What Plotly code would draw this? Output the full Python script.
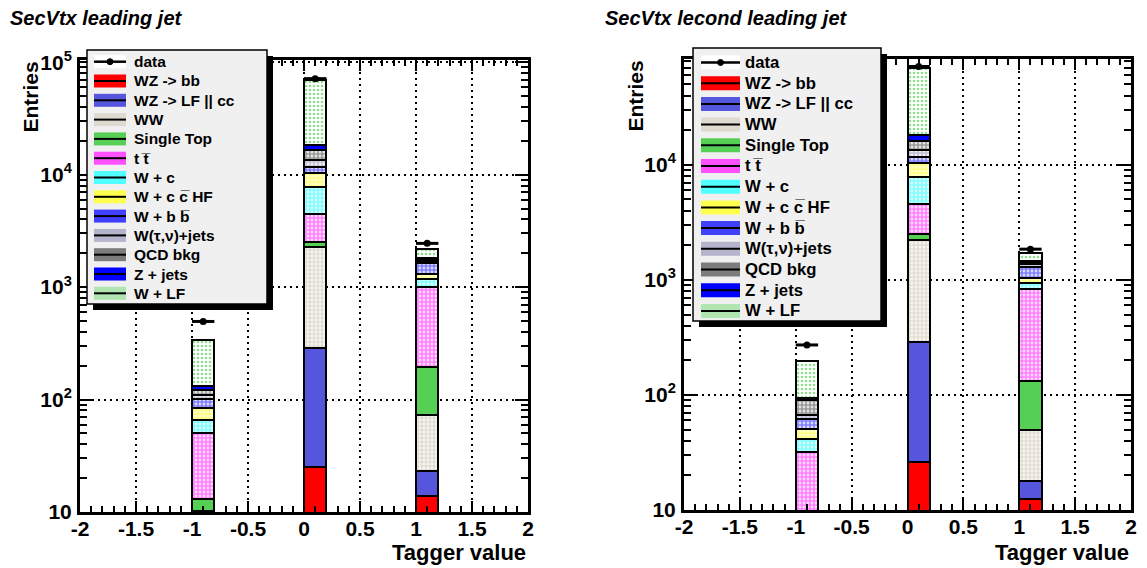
import plotly.graph_objects as go

# ---------------- data ----------------
bins = [-0.9, 0.1, 1.1]          # bin centres (bins of width 0.2 starting at -1, 0, 1)
bin_halfwidth = [0.1, 0.1, 0.1]

components = ["WZ -> bb", "WZ -> LF || cc", "WW", "Single Top", "t t\u0305",
              "W + c", "W + c c\u0305 HF", "W + b b\u0305", "W(\u03c4,\u03bd)+jets",
              "QCD bkg", "Z + jets", "W + LF"]

# leading jet (left panel)
lead_wzbb = [0.5, 25, 14]
lead_wzlf = [1.5, 262, 9.2]
lead_ww = [8.3, 1973, 49.8]
lead_stop = [2.7, 240, 120]
lead_tt = [37, 1980, 817]
lead_wc = [16, 3350, 170]
lead_wcc = [18, 2450, 130]
lead_wbb = [17, 1450, 316]
lead_wtau = [8, 1720, 74]
lead_qcd = [12, 3030, 80]
lead_zjets = [11, 1800, 35]
lead_wlf = [206, 51600, 365]
lead_data = [495, 71500, 2450]

# second leading jet (right panel)
sec_wzbb = [0.3, 26, 12.4]
sec_wzlf = [1.0, 264, 5.6]
sec_ww = [3.7, 1940, 31.6]
sec_stop = [3.0, 280, 83.4]
sec_tt = [23.9, 2070, 697]
sec_wc = [9.8, 3330, 118]
sec_wcc = [9.2, 2570, 87]
sec_wbb = [11, 1180, 255]
sec_wtau = [5.1, 1840, 87]
sec_qcd = [23.5, 2680, 63]
sec_zjets = [3, 2060, 31]
sec_wlf = [105.5, 51160, 255]
sec_data = [272, 71600, 1850]

x_tickvals = [-2, -1.5, -1, -0.5, 0, 0.5, 1, 1.5, 2]
x_ticktext = ["-2", "-1.5", "-1", "-0.5", "0", "0.5", "1", "1.5", "2"]
y_tickvals = [10, 100, 1000, 10000, 100000]
y_ticktext = ["10", "10<sup>2</sup>", "10<sup>3</sup>", "10<sup>4</sup>", "10<sup>5</sup>"]

lead_series = [lead_wzbb, lead_wzlf, lead_ww, lead_stop, lead_tt, lead_wc, lead_wcc,
               lead_wbb, lead_wtau, lead_qcd, lead_zjets, lead_wlf]
sec_series = [sec_wzbb, sec_wzlf, sec_ww, sec_stop, sec_tt, sec_wc, sec_wcc,
              sec_wbb, sec_wtau, sec_qcd, sec_zjets, sec_wlf]

# ---------------- styles ----------------
# (fill colour, pattern shape, pattern fg colour, legend swatch colour)
styles = [
    ("#ff0000", "", None, "#ff0000"),
    ("#5555dd", "", None, "#5555dd"),
    ("white", ".", "#c4bca4", "#dedad0"),
    ("#55d055", "", None, "#55d055"),
    ("white", ".", "#ff00ff", "#ff50ff"),
    ("white", ".", "#00ffff", "#50ffff"),
    ("white", ".", "#ffff00", "#ffff50"),
    ("white", ".", "#0000ff", "#4040ff"),
    ("white", ".", "#8888aa", "#b4b4cc"),
    ("white", ".", "#333333", "#7c7c7c"),
    ("#0000ff", "", None, "#0000ff"),
    ("white", ".", "#22bb22", "#b0e4b0"),
]

W, H = 1147, 568


def px(x):
    return x / W


def py(y):
    return 1 - y / H


FONT = "Liberation Sans"
fig = go.Figure()

panels = [("x", "y", lead_series, lead_data), ("x2", "y2", sec_series, sec_data)]
for xa, ya, series, data in panels:
    for name, vals, st in zip(components, series, styles):
        col, shp, fg, _ = st
        marker = dict(color=col, line=dict(color="black", width=2))
        if shp:
            sol = 0.35 if name == "W + LF" else 0.72
            marker["pattern"] = dict(shape=shp, fgcolor=fg, bgcolor="white",
                                     size=4, solidity=sol, fillmode="overlay")
        fig.add_trace(go.Bar(x=bins, y=vals, width=0.2, name=name, marker=marker,
                             xaxis=xa, yaxis=ya, showlegend=False))
    fig.add_trace(go.Scatter(x=bins, y=data, mode="markers", name="data",
                             marker=dict(color="black", size=7),
                             error_x=dict(type="data", array=bin_halfwidth,
                                          color="black", thickness=3, width=0),
                             xaxis=xa, yaxis=ya, showlegend=False))

tickfont = dict(family=FONT, size=21, color="black", weight="bold")


def xaxis_cfg(dom, anchor):
    return dict(domain=dom, anchor=anchor, automargin=False, range=[-2, 2],
                tickvals=x_tickvals, ticktext=x_ticktext,
                ticks="inside", ticklen=11, tickwidth=2, tickcolor="black",
                showline=True, linecolor="black", linewidth=3, mirror="allticks",
                showgrid=True, gridcolor="black", griddash="2px,4px", gridwidth=1.5,
                zeroline=False, tickfont=tickfont, ticklabelstandoff=-4,
                minor=dict(ticks="inside", ticklen=6, dtick=0.1, tickwidth=1.5,
                           tickcolor="black", showgrid=False))


minor_y = [k * 10 ** d for d in range(1, 5) for k in range(2, 10)]


def yaxis_cfg(dom, top, anchor):
    return dict(domain=dom, anchor=anchor, automargin=False, type="log", range=[1, top],
                tickvals=y_tickvals, ticktext=y_ticktext, ticks="inside", ticklen=13,
                tickwidth=2, tickcolor="black", showline=True, linecolor="black",
                linewidth=3, mirror="allticks", showgrid=True, gridcolor="black",
                griddash="2px,4px", gridwidth=1.5, zeroline=False, tickfont=tickfont,
                ticklabelstandoff=1,
                minor=dict(ticks="inside", ticklen=7, tickvals=minor_y, tickwidth=1.5,
                           tickcolor="black", showgrid=False))


fig.update_layout(
    width=W, height=H, margin=dict(l=0, r=0, t=0, b=0, autoexpand=False),
    paper_bgcolor="white", plot_bgcolor="white", barmode="stack", bargap=0,
    xaxis=xaxis_cfg([px(80), px(528)], "y"),
    yaxis=yaxis_cfg([py(512), py(60)], 5.02, "x"),
    xaxis2=xaxis_cfg([px(684), px(1131)], "y2"),
    yaxis2=yaxis_cfg([py(510), py(59)], 4.92, "x2"),
)

shapes = []
annotations = []

# titles
for tx, txt in [(8, "SecVtx leading jet"), (603, "SecVtx lecond leading jet")]:
    annotations.append(dict(x=px(tx), y=py(18), xref="paper", yref="paper",
                            xanchor="left", yanchor="middle", showarrow=False, text=txt,
                            font=dict(family=FONT, size=20, color="black",
                                      weight="bold", style="italic")))
# axis titles
for tx, txt in [(528, "Tagger value"), (1131, "Tagger value")]:
    annotations.append(dict(x=px(tx), y=py(552), xref="paper", yref="paper",
                            xanchor="right", yanchor="middle", showarrow=False, text=txt,
                            font=dict(family=FONT, size=22, color="black", weight="bold")))
for tx in [30, 635]:
    annotations.append(dict(x=px(tx), y=py(59), xref="paper", yref="paper",
                            xanchor="center", yanchor="top", showarrow=False,
                            text="Entries", textangle=-90,
                            font=dict(family=FONT, size=21, color="black", weight="bold")))


def draw_legend(bx0, by0, bx1, by1, row0, step, sx0, sx1, tx, fsize, sh):
    shapes.append(dict(type="rect", xref="paper", yref="paper",
                       x0=px(bx0 + 6), x1=px(bx1 + 6), y0=py(by1 + 6), y1=py(by0 + 6),
                       fillcolor="black", line=dict(width=0), layer="above"))
    shapes.append(dict(type="rect", xref="paper", yref="paper",
                       x0=px(bx0), x1=px(bx1), y0=py(by1), y1=py(by0),
                       fillcolor="#f0f0f0", line=dict(color="black", width=1.5),
                       layer="above"))
    labels = ["data"] + components
    for i, lab in enumerate(labels):
        yc = row0 + step * i
        if i == 0:
            fill = "white"
        else:
            fill = styles[i - 1][3]
        shapes.append(dict(type="rect", xref="paper", yref="paper",
                           x0=px(sx0), x1=px(sx1), y0=py(yc + sh / 2), y1=py(yc - sh / 2),
                           fillcolor=fill, line=dict(width=0), layer="above"))
        shapes.append(dict(type="line", xref="paper", yref="paper",
                           x0=px(sx0), x1=px(sx1), y0=py(yc), y1=py(yc),
                           line=dict(color="black", width=2.5 if i == 0 else 2),
                           layer="above"))
        if i == 0:
            xm = (sx0 + sx1) / 2
            shapes.append(dict(type="circle", xref="paper", yref="paper",
                               x0=px(xm - 3), x1=px(xm + 3), y0=py(yc + 3), y1=py(yc - 3),
                               fillcolor="black", line=dict(color="black", width=1),
                               layer="above"))
        annotations.append(dict(x=px(tx), y=py(yc), xref="paper", yref="paper",
                                xanchor="left", yanchor="middle", showarrow=False,
                                text=lab,
                                font=dict(family=FONT, size=fsize, color="black",
                                          weight="bold")))


draw_legend(87, 50, 267, 304, 61.7, 19.3, 94, 126, 132, 15.5, 13)
draw_legend(693, 48, 881, 321, 62.5, 20.7, 701, 740, 743, 16.7, 14)

fig.update_layout(shapes=shapes, annotations=annotations)
fig.write_html("out.html", config={"displayModeBar": False},
               post_script="document.body.style.margin='0px';"
                           "document.body.style.padding='0px';")
